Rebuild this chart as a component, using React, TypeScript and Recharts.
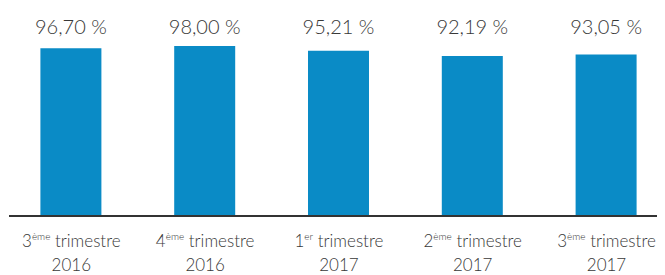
import { BarChart, Bar, XAxis, YAxis, LabelList } from 'recharts';

const quarterNums = ['3', '4', '1', '2', '3'];
const quarterSuffixes = ['ème', 'ème', 'er', 'ème', 'ème'];
const years = ['2016', '2016', '2017', '2017', '2017'];
const rates = [96.7, 98.0, 95.21, 92.19, 93.05];

const chartData = rates.map((rate, i) => ({
  key: `${quarterNums[i]}${quarterSuffixes[i]} trimestre ${years[i]}`,
  num: quarterNums[i],
  suffix: quarterSuffixes[i],
  year: years[i],
  rate,
}));

const FONT = 'Lato, "Open Sans", sans-serif';
const TEXT = '#383838';

function QuarterTick({ x, y, index }: any) {
  const d = chartData[index];
  if (!d) return null;
  return (
    <g transform={`translate(${x},${y})`}>
      <text textAnchor="middle" fontFamily={FONT} fontWeight={300} fontSize={17} fill={TEXT} y={22.5}>
        <tspan>{d.num}</tspan>
        <tspan fontSize={10} dy={-7}>{d.suffix}</tspan>
        <tspan dy={7}> trimestre</tspan>
      </text>
      <text textAnchor="middle" fontFamily={FONT} fontWeight={300} fontSize={17} fill={TEXT} y={47}>
        {d.year}
      </text>
    </g>
  );
}

function RateLabel({ x, width, value }: any) {
  const txt = Number(value).toFixed(2).replace('.', ',') + ' %';
  return (
    <text x={x + width / 2} y={33.5} textAnchor="middle" fontFamily={FONT} fontWeight={300} fontSize={20} fill={TEXT}>
      {txt}
    </text>
  );
}

export default function App() {
  return (
    <div style={{ marginLeft: -8, marginTop: -8, width: 680, height: 275, overflow: 'hidden' }}>
      <BarChart
        width={680}
        height={275}
        data={chartData}
        margin={{ top: 42.5, right: 0, bottom: 0, left: 9 }}
        barSize={61}
      >
        <XAxis
          dataKey="key"
          height={59}
          interval={0}
          tickLine={false}
          axisLine={{ stroke: '#333333', strokeWidth: 2 }}
          padding={{ left: -4.6, right: 6.6 }}
          tick={<QuarterTick />}
        />
        <YAxis hide domain={[0, 100]} />
        <Bar dataKey="rate" fill="#0A8BC6" isAnimationActive={false}>
          <LabelList dataKey="rate" content={<RateLabel />} />
        </Bar>
      </BarChart>
    </div>
  );
}
